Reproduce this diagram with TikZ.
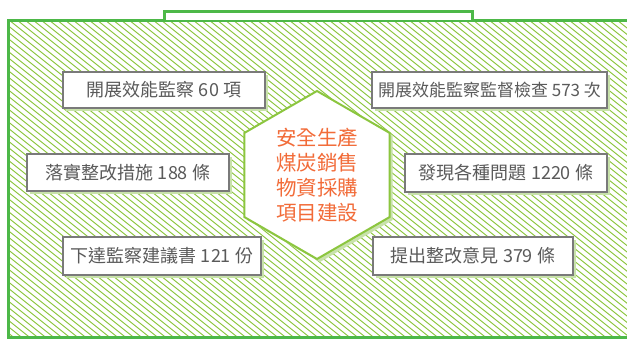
\documentclass[tikz,border=0pt]{standalone}
\usepackage{fontspec}
\setmainfont{Noto Sans CJK TC}
\usetikzlibrary{shapes.geometric,shadows}
\definecolor{framegreen}{HTML}{4DB848}
\definecolor{hatchgreen}{HTML}{8DC63F}
\definecolor{hexgreen}{HTML}{8CC63F}
\definecolor{shgreen}{HTML}{C8E2AA}
\definecolor{boxgray}{HTML}{7A7A7A}
\definecolor{txtgray}{HTML}{5A5A5A}
\definecolor{hexorange}{HTML}{F26B38}
\tikzset{
  infobox/.style={draw=boxgray, line width=1.3pt, fill=white, inner sep=0pt,
    minimum height=36pt, text=txtgray,
    font=\fontsize{18}{20}\selectfont,
    drop shadow={shadow xshift=3pt, shadow yshift=-3pt, fill=shgreen, opacity=1}},
  hexnode/.style={regular polygon, regular polygon sides=6, shape border rotate=30,
    draw=hexgreen, line width=2pt, fill=white, minimum size=168pt, inner sep=0pt,
    text=hexorange, align=center, font=\fontsize{20.5}{25}\selectfont,
    drop shadow={shadow xshift=3pt, shadow yshift=-3pt, fill=shgreen, opacity=1}},
  framestyle/.style={draw=framegreen, line width=3pt},
  hatchline/.style={draw=hatchgreen, line width=0.95pt}
}
\begin{document}
\begin{tikzpicture}[x=1pt,y=-1pt]
\useasboundingbox (0,0) rectangle (627,340);
% hatch
\begin{scope}
  \clip (8,20) rectangle (640,338);
  \foreach \i in {-440,-432,...,640} {
    \draw[hatchline] (\i,0) -- ++(425,340);
  }
\end{scope}
% frame
\draw[framestyle] (8.5,20) rectangle (645,337.5);
\draw[framestyle, line width=2.5pt, fill=white] (164.5,20) -- (164.5,11.5) -- (472.5,11.5) -- (472.5,20);
% hexagon
\node[hexnode] (hub) at (317,175) {安全生產\\煤炭銷售\\物資採購\\項目建設};
% boxes
\node[infobox, minimum width=202pt] (b1) at (164,90) {開展效能監察 60 項};
\node[infobox, minimum width=235pt, font=\fontsize{17}{20}\selectfont] (b2) at (489.5,90) {開展效能監察監督檢查 573 次};
\node[infobox, minimum width=202pt, minimum height=37pt] (b3) at (128,172.5) {落實整改措施 188 條};
\node[infobox, minimum width=202pt, minimum height=38pt] (b4) at (506,173) {發現各種問題 1220 條};
\node[infobox, minimum width=198pt, minimum height=38pt] (b5) at (162,256) {下達監察建議書 121 份};
\node[infobox, minimum width=200pt, minimum height=38pt] (b6) at (473,256) {提出整改意見 379 條};
\end{tikzpicture}
\end{document}
